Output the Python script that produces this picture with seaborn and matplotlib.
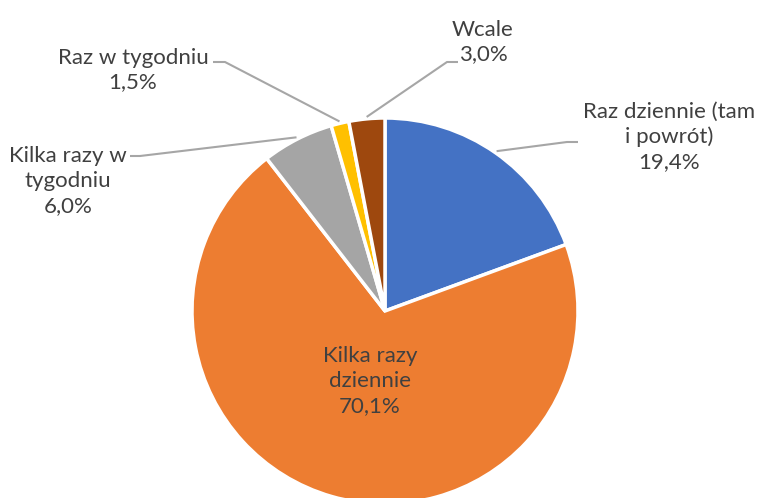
import matplotlib.pyplot as plt
import seaborn as sns
import numpy as np

# Data
labels = ['Raz dziennie (tam\ni powrót)', 'Kilka razy\ndziennie', 'Kilka razy w\ntygodniu',
          'Raz w tygodniu', 'Wcale']
values = [19.4, 70.1, 6.0, 1.5, 3.0]
colors = ['#4472C4', '#ED7D31', '#A5A5A5', '#FFC000', '#9E480E']

sns.set_theme(style='white')
plt.rcParams['font.family'] = ['Lato', 'DejaVu Sans']

W, H = 757, 498
fig = plt.figure(figsize=(W / 100, H / 100), dpi=100)
ax = fig.add_axes([0, 0, 1, 1])

cx, cy, r = 385, H - 311, 193
wedges, _ = ax.pie(values, colors=colors, startangle=90, counterclock=False,
                   center=(cx, cy), radius=r, frame=True,
                   wedgeprops=dict(edgecolor='white', linewidth=2.5))
ax.set_xlim(0, W)
ax.set_ylim(0, H)
ax.set_aspect('equal')
ax.axis('off')

txt_color = '#404040'
line_color = '#A6A6A6'
fs = 16

# label centre (pixels, y from top) and leader elbow/end (pixels)
label_pos = [(669, 137), (370, 381), (68, 181), (133, 70), (483, 42)]
leader = [[(567, 142), (578, 142)], None, [(140, 156), (130, 156)],
          [(225, 62), (213, 62)], [(447, 62), (458, 62)]]

for w, lab, v, pos, ld in zip(wedges, labels, values, label_pos, leader):
    text = lab + '\n' + f'{v:.1f}'.replace('.', ',') + '%'
    ax.text(pos[0], H - pos[1], text, ha='center', va='center', fontsize=fs,
            color=txt_color, linespacing=1.3)
    if ld is not None:
        ang = np.deg2rad((w.theta1 + w.theta2) / 2)
        x0 = cx + r * 1.01 * np.cos(ang)
        y0 = cy + r * 1.01 * np.sin(ang)
        xs = [x0] + [p[0] for p in ld]
        ys = [y0] + [H - p[1] for p in ld]
        ax.plot(xs, ys, color=line_color, linewidth=1.5, solid_capstyle='butt')

fig.savefig('out.png', dpi=100)
